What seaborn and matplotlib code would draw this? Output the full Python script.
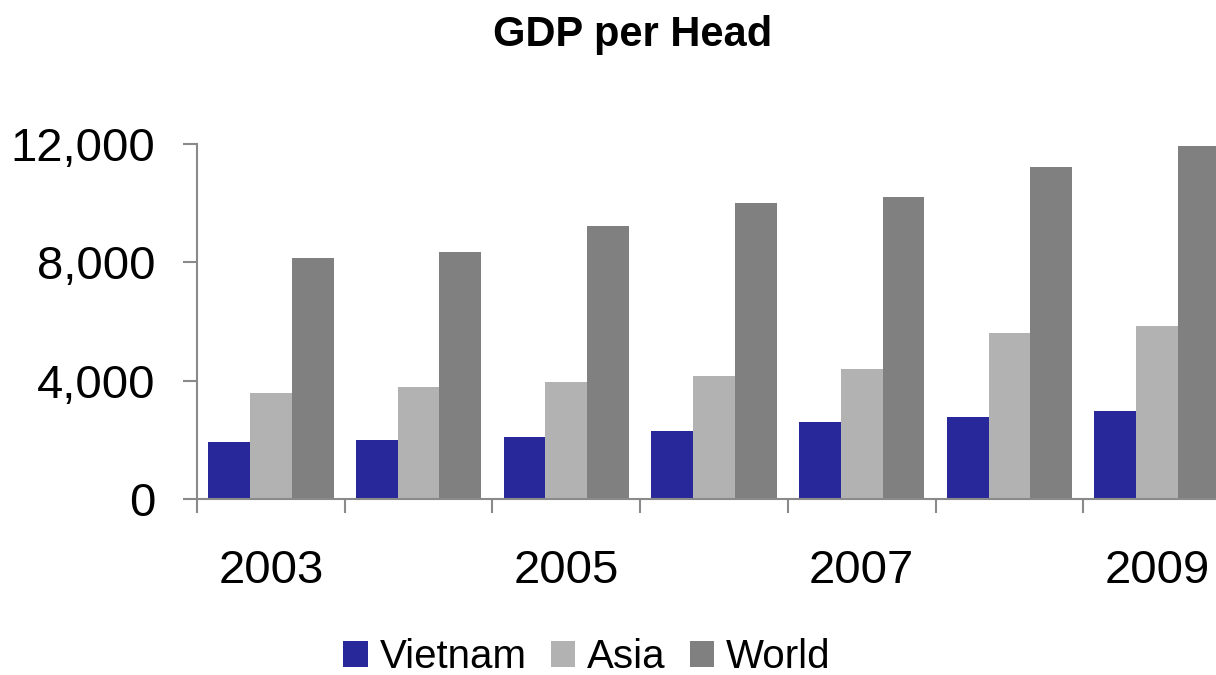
# GDP per head grouped bar chart

import matplotlib
matplotlib.use("Agg")
import matplotlib.pyplot as plt
import seaborn as sns
import pandas as pd
from matplotlib.ticker import FixedLocator, FuncFormatter

years = [2003, 2004, 2005, 2006, 2007, 2008, 2009]
vietnam = [1930, 2000, 2100, 2300, 2600, 2770, 2990]
asia = [3580, 3790, 3960, 4160, 4400, 5610, 5850]
world = [8150, 8350, 9230, 10010, 10210, 11220, 11940]
series_names = ["Vietnam", "Asia", "World"]
colors = ["#28289a", "#b2b2b2", "#808080"]
shown_years = [2003, 2005, 2007, 2009]

df = pd.DataFrame({
    "year": years * 3,
    "value": vietnam + asia + world,
    "series": [s for s in series_names for _ in years],
})

sns.set_style("white")
plt.rcParams["font.family"] = ["Liberation Sans", "DejaVu Sans"]
plt.rcParams["text.color"] = "black"
spine_col = "#8a8a8a"

fig = plt.figure(figsize=(12.16, 6.75), dpi=100)
ax = fig.add_axes([197 / 1216, 1 - 499 / 675, 1034 / 1216, (499 - 144) / 675])

sns.barplot(data=df, x="year", y="value", hue="series", palette=colors,
            width=0.85, saturation=1, linewidth=0, ax=ax, legend=True)

ax.set_ylim(0, 12000)
ax.set_xlim(-0.5, len(years) - 0.5)
ax.set_yticks([0, 4000, 8000, 12000])
ax.yaxis.set_major_formatter(FuncFormatter(lambda v, p: f"{int(v):,}"))
ax.set_xticks(range(len(years)))
ax.set_xticklabels([str(y) if y in shown_years else "" for y in years])
ax.xaxis.set_minor_locator(FixedLocator([i - 0.5 for i in range(len(years) + 1)]))

ax.tick_params(axis="y", which="major", length=10, width=1.5, color=spine_col,
               direction="out", left=True, pad=20, labelsize=34, labelcolor="black")
ax.tick_params(axis="x", which="major", length=0, pad=36, labelsize=34,
               labelcolor="black")
ax.tick_params(axis="x", which="minor", length=10, width=1.5, color=spine_col,
               direction="out", bottom=True)

for side in ["top", "right"]:
    ax.spines[side].set_visible(False)
for side in ["left", "bottom"]:
    ax.spines[side].set_color(spine_col)
    ax.spines[side].set_linewidth(1.5)

ax.set_xlabel("")
ax.set_ylabel("")

handles, labels = ax.get_legend_handles_labels()
ax.get_legend().remove()
fig.legend(handles, labels, loc="center", bbox_to_anchor=(587 / 1216, 1 - 657 / 675),
           ncol=3, frameon=False, fontsize=29, handlelength=0.6, handleheight=0.6,
           handletextpad=0.3, columnspacing=0.6, borderaxespad=0,
           labelcolor="black")

fig.text(633 / 1216, 1 - 35 / 675, "GDP per Head", ha="center", va="center",
         fontsize=30, fontweight="bold", color="black")

fig.savefig("out.png", dpi=100)
